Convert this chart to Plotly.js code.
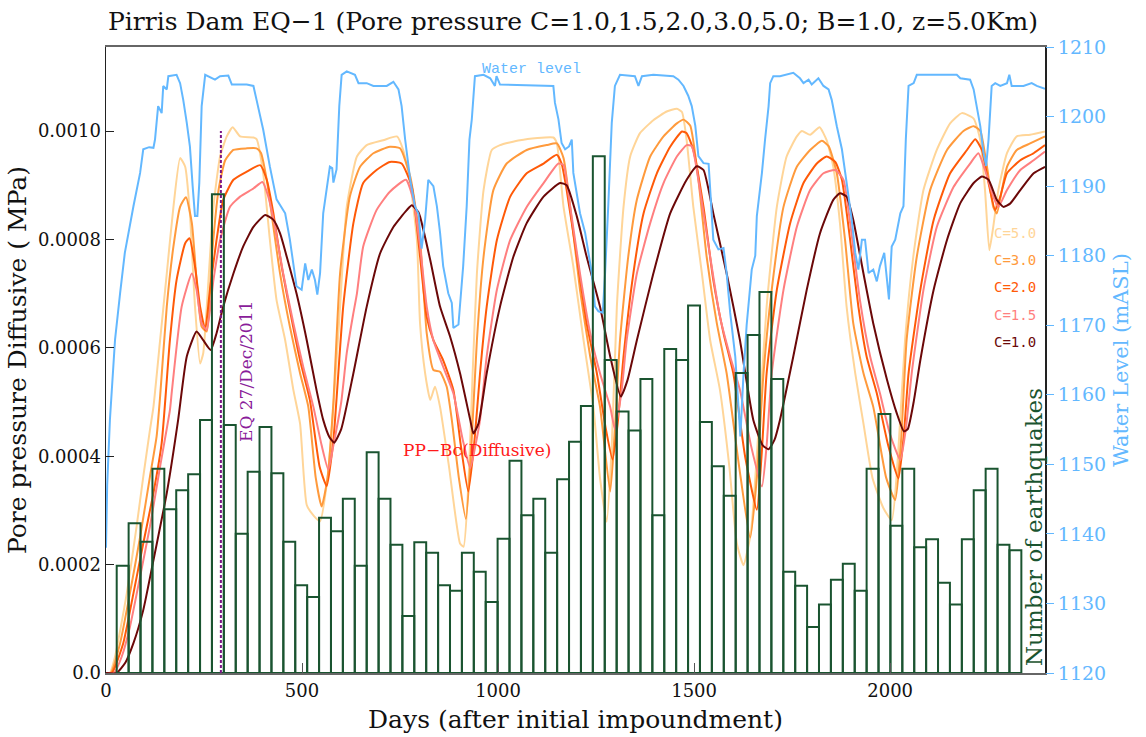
<!DOCTYPE html>
<html>
<head>
<meta charset="utf-8">
<script src="https://cdn.plot.ly/plotly-3.0.1.min.js"></script>
<style>html,body{margin:0;padding:0;background:#fff;}#chart{width:1146px;height:737px;}</style>
</head>
<body>
<div id="chart"></div>
<script>
// ---------------- DATA ----------------
// Water level (m a.s.l.) vs days after initial impoundment
const wlDays = [0,3,10,23,36,48,70,87,95,110,121,125,133,142,146,155,159,180,189,197,206,214,221,227,233,238,244,253,278,291,312,321,359,376,384,401,418,435,457,469,486,499,508,516,525,533,539,546,554,563,571,577,580,588,595,601,614,635,644,665,682,716,733,746,754,763,776,788,797,805,814,822,835,844,852,860,873,882,886,899,903,911,920,927,933,941,963,980,992,996,1005,1056,1141,1145,1154,1162,1171,1181,1188,1192,1201,1209,1222,1230,1239,1247,1256,1267,1273,1281,1290,1298,1311,1349,1358,1367,1396,1447,1460,1473,1485,1494,1503,1511,1524,1537,1541,1549,1562,1575,1583,1592,1605,1613,1618,1626,1634,1647,1656,1660,1673,1681,1690,1694,1702,1719,1753,1770,1779,1792,1800,1817,1830,1843,1851,1864,1877,1889,1902,1911,1919,1928,1936,1945,1957,1966,1974,1985,1991,1997,2004,2013,2026,2034,2040,2047,2060,2068,2128,2170,2179,2204,2213,2221,2230,2238,2245,2251,2259,2268,2281,2298,2304,2310,2340,2361,2374,2395];
const wlLevel = [1138,1147,1156.4,1167.9,1174.6,1180.4,1187.1,1191.9,1195.3,1195.6,1195.5,1196.7,1201.5,1200.5,1204.4,1203.9,1205.8,1206.0,1204.8,1202.4,1199.1,1195.7,1190,1185.7,1185.7,1190.5,1201.5,1206.0,1205.3,1205.8,1205.9,1204.6,1204.6,1204.4,1202.4,1198.1,1192.8,1188.1,1186.1,1182.3,1175.6,1175.1,1178.9,1176.5,1178.0,1176.5,1174.4,1177.5,1186.1,1189.5,1192.8,1192.6,1190.5,1192.4,1201.5,1206.0,1206.5,1206.0,1204.8,1204.8,1204.4,1204.4,1205.0,1203.9,1201.5,1196.7,1190.9,1187.1,1186,1181,1185.2,1190.9,1190,1187.1,1183.3,1178.5,1174.6,1173.2,1169.6,1170.1,1172.7,1178.5,1187.1,1196.7,1199.6,1205.8,1206.0,1205.5,1204.4,1205.8,1204.6,1204.5,1204.4,1202,1199.6,1196.2,1195.3,1195.7,1196.7,1191.9,1189,1186.1,1183.3,1180.4,1177.5,1172.7,1172,1171.8,1177.5,1187.1,1199.1,1204.4,1206.0,1205.8,1204.4,1205.8,1206.0,1205.8,1205.3,1204.4,1203,1201.5,1198.7,1194.3,1193.3,1193.2,1189.5,1182.3,1180.9,1181.1,1177.5,1171.8,1165.5,1158,1154,1163,1170,1178,1180,1185.7,1191.9,1196.7,1201.5,1204.8,1205.8,1205.8,1206.3,1205.5,1204.8,1205.3,1204.6,1205.5,1204.4,1203.9,1202.4,1198.6,1195.3,1190.5,1185.2,1180.4,1178,1182.3,1182.3,1177.5,1178,1176.3,1178.5,1180.4,1177.5,1173.7,1181.3,1182.3,1186.1,1187.1,1196.7,1204.4,1204.8,1206,1206,1206,1205.5,1205.3,1203.9,1201.5,1198.6,1194.8,1192.9,1196.7,1204.4,1204.8,1204.4,1204.8,1206,1204.4,1204.4,1204.8,1204.4,1204];

// Diffusive pore pressure (MPa), C = 1.0
const c10Days = [0,27,50,70,95,121,155,184,206,231,248,267,282,299,325,350,376,406,427,444,461,486,512,537,554,570,582,600,631,665,699,733,767,780,797,801,827,852,878,903,929,937,950,971,1005,1039,1073,1116,1158,1175,1201,1226,1260,1286,1313,1330,1354,1396,1439,1481,1507,1524,1549,1583,1617,1651,1675,1690,1705,1719,1753,1787,1821,1855,1872,1889,1906,1932,1957,1992,2017,2035,2045,2060,2077,2111,2145,2179,2213,2234,2251,2272,2289,2306,2332,2366,2395];
const c10PP = [0,0,2.0e-5,5.5e-5,1.16e-4,2.08e-4,3.32e-4,4.67e-4,5.84e-4,6.30e-4,6.14e-4,5.96e-4,6.27e-4,6.76e-4,7.37e-4,7.87e-4,8.23e-4,8.45e-4,8.36e-4,8.11e-4,7.68e-4,7.0e-4,6.14e-4,5.22e-4,4.67e-4,4.35e-4,4.25e-4,4.5e-4,5.53e-4,6.76e-4,7.74e-4,8.23e-4,8.54e-4,8.63e-4,8.5e-4,8.42e-4,7.62e-4,6.76e-4,6.2e-4,5.53e-4,4.67e-4,4.42e-4,4.6e-4,5.53e-4,6.76e-4,7.68e-4,8.3e-4,8.79e-4,9.04e-4,9.0e-4,8.42e-4,7.68e-4,6.76e-4,5.84e-4,5.1e-4,5.4e-4,6.14e-4,7.37e-4,8.48e-4,9.1e-4,9.35e-4,9.28e-4,8.48e-4,7.37e-4,6.14e-4,4.67e-4,4.2e-4,4.13e-4,4.3e-4,4.67e-4,5.84e-4,7.06e-4,8.11e-4,8.73e-4,8.85e-4,8.79e-4,8.36e-4,7.37e-4,6.45e-4,5.41e-4,4.79e-4,4.46e-4,4.5e-4,5.0e-4,5.77e-4,7.07e-4,7.99e-4,8.67e-4,9.04e-4,9.16e-4,9.1e-4,8.73e-4,8.6e-4,8.66e-4,8.91e-4,9.22e-4,9.34e-4];

// C = 1.5
const c15Days = [0,20,40,61,87,112,138,163,168,193,219,231,244,257,274,291,316,342,376,399,414,431,452,478,503,529,550,567,580,600,614,630,640,656,690,724,765,784,801,818,835,860,886,910,929,945,954,971,997,1031,1073,1116,1154,1167,1184,1209,1235,1260,1286,1298,1315,1328,1354,1388,1422,1456,1481,1494,1515,1541,1566,1592,1617,1645,1673,1685,1698,1728,1762,1796,1830,1860,1881,1898,1923,1949,1974,2000,2026,2040,2055,2085,2119,2162,2204,2225,2242,2263,2276,2298,2332,2366,2395];
const c15PP = [0,0,3e-5,8.5e-5,1.78e-4,2.7e-4,3.81e-4,4.85e-4,5.2e-4,6.76e-4,7.37e-4,7.07e-4,6.45e-4,6.33e-4,7.25e-4,7.99e-4,8.6e-4,8.79e-4,8.94e-4,9.06e-4,8.79e-4,8.23e-4,7.37e-4,6.45e-4,5.65e-4,4.91e-4,4.2e-4,3.75e-4,4.2e-4,5.0e-4,5.9e-4,6.6e-4,7.0e-4,7.87e-4,8.54e-4,8.88e-4,9.1e-4,8.73e-4,7.87e-4,6.76e-4,6.14e-4,5.65e-4,5.16e-4,4.3e-4,3.78e-4,4.3e-4,4.67e-4,5.84e-4,7.07e-4,7.99e-4,8.6e-4,9.04e-4,9.4e-4,9.37e-4,8.6e-4,7.37e-4,6.27e-4,5.53e-4,4.91e-4,4.5e-4,5.2e-4,6.14e-4,7.37e-4,8.3e-4,9.04e-4,9.53e-4,9.74e-4,9.72e-4,8.91e-4,7.68e-4,6.57e-4,5.84e-4,5.22e-4,4.2e-4,3.44e-4,4.2e-4,5.53e-4,7.07e-4,8.23e-4,8.91e-4,9.22e-4,9.28e-4,9.1e-4,8.3e-4,6.88e-4,5.84e-4,5.16e-4,4.4e-4,3.93e-4,4.5e-4,5.53e-4,7.07e-4,8.23e-4,8.97e-4,9.4e-4,9.59e-4,9.28e-4,8.79e-4,8.6e-4,8.91e-4,9.28e-4,9.46e-4,9.62e-4];

// C = 2.0
const c20Days = [0,15,44,70,95,121,142,163,180,202,213,227,240,253,265,282,299,325,359,393,410,427,448,474,495,520,545,563,580,605,631,656,690,724,754,780,801,818,835,860,886,905,924,940,954,971,997,1031,1073,1116,1150,1162,1175,1201,1226,1252,1275,1292,1305,1320,1345,1371,1405,1439,1469,1481,1498,1524,1549,1575,1600,1630,1660,1672,1685,1711,1745,1779,1813,1838,1860,1877,1898,1919,1940,1966,1995,2021,2035,2047,2077,2111,2153,2196,2217,2234,2251,2268,2281,2298,2332,2366,2395];
const c20PP = [0,0,5.5e-5,1.47e-4,2.39e-4,3.32e-4,4.24e-4,6.14e-4,7.25e-4,7.93e-4,8.02e-4,7.5e-4,6.76e-4,6.33e-4,7.07e-4,7.99e-4,8.73e-4,9.1e-4,9.25e-4,9.37e-4,9.1e-4,8.48e-4,7.5e-4,6.51e-4,5.77e-4,5.04e-4,3.8e-4,3.45e-4,4.3e-4,6.76e-4,8.3e-4,9.04e-4,9.28e-4,9.43e-4,9.4e-4,8.97e-4,7.68e-4,6.57e-4,6.14e-4,5.77e-4,5.22e-4,4.2e-4,3.35e-4,4.3e-4,5.53e-4,6.76e-4,7.99e-4,8.79e-4,9.22e-4,9.4e-4,9.56e-4,9.4e-4,8.91e-4,7.68e-4,6.45e-4,5.53e-4,4.5e-4,3.94e-4,4.6e-4,5.84e-4,7.37e-4,8.48e-4,9.22e-4,9.71e-4,9.99e-4,9.96e-4,9.65e-4,8.6e-4,7.25e-4,6.27e-4,5.53e-4,4.0e-4,3.01e-4,4.0e-4,5.53e-4,7.07e-4,8.3e-4,9.04e-4,9.4e-4,9.53e-4,9.43e-4,9.1e-4,7.99e-4,6.76e-4,5.84e-4,5.16e-4,4.2e-4,3.59e-4,4.4e-4,5.53e-4,7.07e-4,8.36e-4,9.22e-4,9.65e-4,9.85e-4,9.65e-4,9.04e-4,8.54e-4,8.79e-4,9.22e-4,9.46e-4,9.59e-4,9.74e-4];

// C = 3.0
const c30Days = [0,12,36,61,87,112,129,138,155,172,189,204,219,231,244,257,270,287,304,325,359,384,395,410,427,444,469,495,516,535,550,565,580,597,622,648,682,724,750,776,801,818,835,852,869,882,900,918,932,946,963,988,1022,1073,1124,1150,1167,1184,1209,1235,1260,1286,1298,1311,1332,1354,1388,1422,1456,1473,1490,1511,1532,1558,1583,1615,1643,1660,1677,1698,1728,1762,1796,1826,1843,1864,1885,1906,1932,1957,1990,2013,2028,2042,2068,2102,2145,2187,2213,2230,2247,2263,2272,2285,2298,2323,2357,2395];
const c30PP = [0,0,5.5e-5,1.47e-4,2.51e-4,3.62e-4,4.36e-4,5.1e-4,6.76e-4,7.87e-4,8.6e-4,8.78e-4,8.3e-4,7.25e-4,6.39e-4,6.3e-4,7.68e-4,8.91e-4,9.46e-4,9.65e-4,9.68e-4,9.68e-4,9.6e-4,9.1e-4,8.23e-4,7.37e-4,6.39e-4,5.53e-4,4.91e-4,3.6e-4,3.07e-4,3.6e-4,5.0e-4,7.37e-4,8.79e-4,9.34e-4,9.59e-4,9.71e-4,9.68e-4,9.16e-4,7.99e-4,6.27e-4,5.59e-4,5.56e-4,5.28e-4,4.67e-4,3.6e-4,2.84e-4,4.2e-4,6.14e-4,7.68e-4,8.91e-4,9.4e-4,9.65e-4,9.74e-4,9.77e-4,9.5e-4,8.6e-4,7.07e-4,5.84e-4,4.91e-4,3.35e-4,4.5e-4,6.14e-4,7.68e-4,8.73e-4,9.53e-4,9.9e-4,1.014e-3,1.021e-3,1.01e-3,9.1e-4,7.68e-4,6.45e-4,5.53e-4,3.8e-4,2.5e-4,3.6e-4,5.53e-4,7.07e-4,8.6e-4,9.34e-4,9.65e-4,9.82e-4,9.72e-4,9.22e-4,7.99e-4,6.45e-4,5.53e-4,4.91e-4,3.6e-4,3.19e-4,4.3e-4,6.14e-4,7.68e-4,8.91e-4,9.65e-4,1.0e-3,1.009e-3,1.0e-3,9.34e-4,8.6e-4,8.48e-4,8.91e-4,9.34e-4,9.65e-4,9.77e-4,9.9e-4];

// C = 5.0
const c50Days = [0,10,23,53,78,95,112,121,138,155,172,189,202,214,227,240,248,257,274,291,308,323,342,376,384,401,418,435,457,478,495,512,530,546,565,580,597,614,640,665,707,742,758,776,793,801,814,827,839,852,875,903,912,925,935,946,963,984,1005,1056,1141,1150,1167,1192,1218,1243,1260,1277,1290,1303,1320,1337,1362,1396,1430,1456,1469,1481,1498,1520,1541,1566,1590,1609,1626,1645,1658,1668,1685,1711,1736,1762,1775,1796,1820,1838,1855,1872,1889,1911,1932,1955,1983,2004,2020,2038,2059,2085,2119,2153,2183,2213,2230,2242,2253,2263,2276,2298,2323,2357,2395];
const c50PP = [0,0,3e-5,1.47e-4,2.7e-4,3.62e-4,4.48e-4,4.91e-4,6.14e-4,7.37e-4,8.6e-4,9.5e-4,9.34e-4,8.48e-4,6.76e-4,5.71e-4,5.9e-4,6.76e-4,8.6e-4,9.53e-4,9.9e-4,1.007e-3,9.9e-4,9.88e-4,9.85e-4,9.22e-4,7.99e-4,6.88e-4,6.14e-4,5.22e-4,4.6e-4,3.1e-4,2.9e-4,2.8e-4,3.6e-4,4.91e-4,6.76e-4,8.6e-4,9.53e-4,9.74e-4,9.83e-4,9.9e-4,9.65e-4,9.04e-4,7.99e-4,6.45e-4,5.53e-4,5.04e-4,5.28e-4,4.91e-4,3.8e-4,2.39e-4,2.33e-4,3.6e-4,5.5e-4,7.37e-4,8.91e-4,9.65e-4,9.74e-4,9.83e-4,9.88e-4,9.77e-4,8.6e-4,7.5e-4,6.14e-4,4.91e-4,3.6e-4,2.79e-4,4.2e-4,6.76e-4,8.6e-4,9.53e-4,9.96e-4,1.02e-3,1.036e-3,1.041e-3,1.035e-3,9.83e-4,8.6e-4,7.37e-4,6.14e-4,5.22e-4,3.8e-4,2.39e-4,1.99e-4,2.6e-4,3.8e-4,4.91e-4,6.76e-4,8.6e-4,9.53e-4,9.9e-4,1.0e-3,9.93e-4,1.007e-3,9.83e-4,9.34e-4,8.3e-4,6.76e-4,5.53e-4,4.6e-4,3.6e-4,3.04e-4,2.82e-4,4.0e-4,6.14e-4,7.68e-4,8.91e-4,9.65e-4,1.014e-3,1.033e-3,1.023e-3,9.83e-4,8.91e-4,7.8e-4,8.23e-4,8.91e-4,9.59e-4,9.9e-4,9.93e-4,9.99e-4];

// Monthly earthquake counts (bin centres in days)
const eqBinDays = [42.5,72.9,103.2,133.6,163.9,194.3,224.7,255.0,285.4,315.7,346.1,376.5,406.8,437.2,467.5,497.9,528.3,558.6,589.0,619.3,649.7,680.1,710.4,740.8,771.1,801.5,831.9,862.2,892.6,922.9,953.3,983.7,1014.0,1044.4,1074.7,1105.1,1135.5,1165.8,1196.2,1226.5,1256.9,1287.3,1317.6,1348.0,1378.3,1408.7,1439.1,1469.4,1499.8,1530.1,1560.5,1590.9,1621.2,1651.6,1681.9,1712.3,1742.7,1773.0,1803.4,1833.7,1864.1,1894.5,1924.8,1955.2,1985.5,2015.9,2046.3,2076.6,2107.0,2137.3,2167.7,2198.1,2228.4,2258.8,2289.1,2319.5];
const eqCounts = [21.4,29.9,26.2,40.8,32.7,36.5,39.7,50.5,95.6,49.5,27.8,40.2,49.1,39.9,26.2,17.5,15.2,31.0,28.3,34.8,21.4,44.1,34.8,25.6,11.4,26.1,24.0,17.5,16.4,24.0,20.2,14.2,26.8,42.4,31.5,34.8,24.0,38.7,46.2,53.3,103.2,62.5,52.2,48.4,58.7,31.5,64.7,62.5,73.4,50.1,41.3,35.4,59.9,67.5,76.1,58.7,20.2,17.4,9.2,13.7,18.6,21.8,16.4,40.8,51.7,29.4,40.8,25.1,26.7,18.0,13.7,26.7,36.5,40.8,25.6,24.5];

// Main event
const eqEventDay = 293;
const eqEventTop = 0.0010;

// Tick labels
const ppTickVals = [0,0.0002,0.0004,0.0006,0.0008,0.0010];
const ppTickText = ['0.0','0.0002','0.0004','0.0006','0.0008','0.0010'];
const dayTickVals = [0,500,1000,1500,2000];
const wlTickVals = [1120,1130,1140,1150,1160,1170,1180,1190,1200,1210];

const curveNames = ['C=5.0','C=3.0','C=2.0','C=1.5','C=1.0'];
const curveColors = ['#ffd598','#ff9a3c','#ff5a08','#ff7f7f','#6b0808'];

// ---------------- PLOT ----------------
const serif = 'DejaVu Serif';
const wlColor = '#63b8ff';
const barColor = '#1a5430';

const curveSets = [[c50Days,c50PP],[c30Days,c30PP],[c20Days,c20PP],[c15Days,c15PP],[c10Days,c10PP]];
const traces = [];
curveSets.forEach((s,i)=>{
  traces.push({x:s[0], y:s[1], type:'scatter', mode:'lines', name:curveNames[i],
    line:{color:curveColors[i], width:2, shape:'spline', smoothing:0.5}, xaxis:'x', yaxis:'y', hoverinfo:'skip'});
});
traces.push({x:wlDays, y:wlLevel, type:'scatter', mode:'lines', name:'Water level',
  line:{color:wlColor, width:2}, xaxis:'x', yaxis:'y2', hoverinfo:'skip'});
traces.push({x:eqBinDays, y:eqCounts, type:'bar', name:'Earthquakes', width:30.36,
  marker:{color:'rgba(0,0,0,0)', line:{color:barColor, width:2}}, xaxis:'x', yaxis:'y3', hoverinfo:'skip'});
traces.push({x:[eqEventDay,eqEventDay], y:[0,eqEventTop], type:'scatter', mode:'lines', name:'EQ',
  line:{color:'#7b1486', width:2, dash:'3px,2px'}, xaxis:'x', yaxis:'y4', hoverinfo:'skip'});

const PX0 = 106, PX1 = 1045, PY0 = 47, PY1 = 673;
const px = v => (v - PX0)/(PX1-PX0);
const py = v => (PY1 - v)/(PY1-PY0);

const legendY = [233,260,287,315,342];
const annotations = [];
curveNames.forEach((n,i)=>{
  annotations.push({xref:'paper', yref:'paper', x:px(1038), y:py(legendY[i]), xanchor:'right', yanchor:'middle',
    text:n, showarrow:false, font:{family:'DejaVu Sans Mono', size:14, color:curveColors[i]}});
});
annotations.push({xref:'paper', yref:'paper', x:px(531), y:py(70), text:'Water level', showarrow:false,
  font:{family:'Liberation Mono', size:15, color:wlColor}, xanchor:'center', yanchor:'middle'});
annotations.push({xref:'paper', yref:'paper', x:px(477), y:py(450), text:'PP\u2212Bc(Diffusive)', showarrow:false,
  font:{family:serif, size:17, color:'#ff1a1a'}, xanchor:'center', yanchor:'middle'});
annotations.push({xref:'paper', yref:'paper', x:px(246), y:py(372), text:'EQ 27/Dec/2011', showarrow:false, textangle:-90,
  font:{family:serif, size:17, color:'#8a1c9a'}, xanchor:'center', yanchor:'middle'});
annotations.push({xref:'paper', yref:'paper', x:px(1034), y:py(527), text:'Number of earthquakes', showarrow:false, textangle:-90,
  font:{family:serif, size:23, color:barColor}, xanchor:'center', yanchor:'middle'});

const layout = {
  width:1146, height:737,
  margin:{l:PX0, r:1146-PX1, t:PY0, b:737-PY1, pad:0},
  paper_bgcolor:'#fff', plot_bgcolor:'#fff',
  showlegend:false,
  title:{text:'Pirris Dam EQ\u22121 (Pore pressure C=1.0,1.5,2.0,3.0,5.0; B=1.0, z=5.0Km)',
    font:{family:serif, size:25, color:'#111'}, x:0.5, xanchor:'center', y:1-21/737, yanchor:'middle'},
  xaxis:{range:[0,2395], tickvals:dayTickVals, ticks:'inside', ticklen:10, tickcolor:'#555', tickwidth:1,
    showline:true, linecolor:'#666', linewidth:2, mirror:true, showgrid:false, zeroline:false,
    tickfont:{family:serif, size:18, color:'#111'},
    title:{text:'Days (after initial impoundment)', font:{family:serif, size:25, color:'#111'}, standoff:11}},
  yaxis:{range:[0,0.001155], tickvals:ppTickVals, ticktext:ppTickText, ticks:'inside', ticklen:8, tickcolor:'#222',
    showline:true, linecolor:'#222', linewidth:1.5, mirror:true, showgrid:false, zeroline:false,
    tickfont:{family:serif, size:18, color:'#111'},
    title:{text:'Pore pressure Diffusive ( MPa)', font:{family:serif, size:25, color:'#111'}, standoff:4}},
  yaxis2:{range:[1120,1210], overlaying:'y', side:'right', tickvals:wlTickVals, ticks:'outside', ticklen:8,
    tickcolor:wlColor, showline:false, showgrid:false, zeroline:false,
    tickfont:{family:serif, size:19, color:wlColor},
    title:{text:'Water Level (mASL)', font:{family:serif, size:21, color:wlColor}, standoff:8}},
  yaxis3:{range:[0,125], overlaying:'y', visible:false, showgrid:false, zeroline:false},
  yaxis4:{range:[0,0.001155], overlaying:'y', visible:false, showgrid:false, zeroline:false},
  bargap:0,
  annotations:annotations
};

Plotly.newPlot('chart', traces, layout, {displayModeBar:false, staticPlot:true});
</script>
</body>
</html>
